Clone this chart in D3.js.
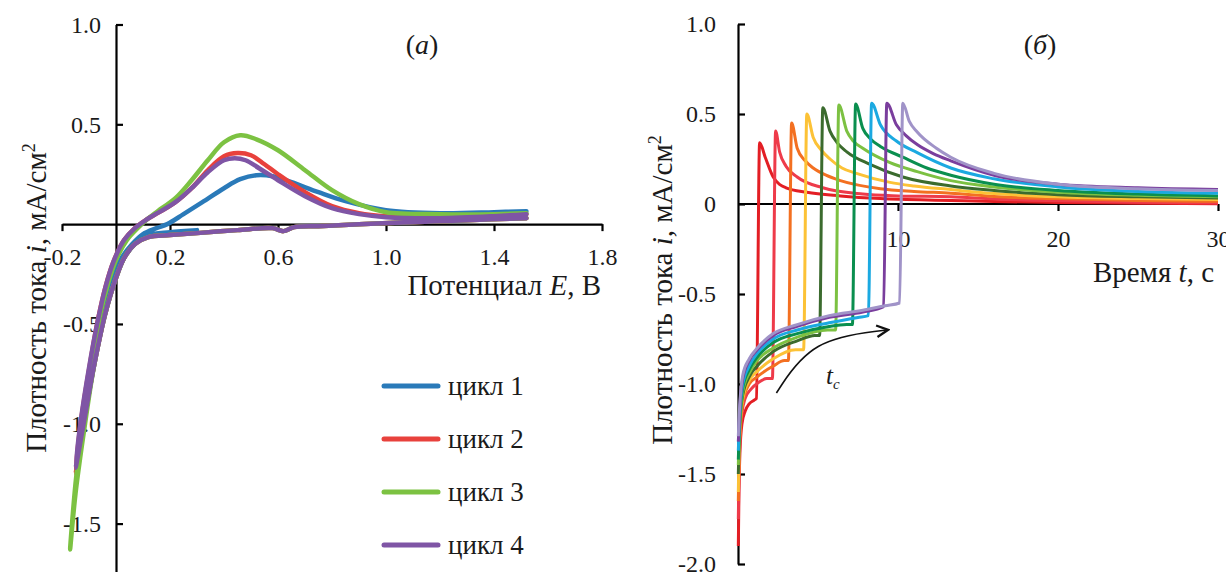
<!DOCTYPE html>
<html>
<head>
<meta charset="utf-8">
<script src="https://cdn.jsdelivr.net/npm/d3@7"></script>
<style>
  body { margin: 0; background: #fff; }
  svg { display: block; font-family: "Liberation Serif", "DejaVu Serif", serif; fill: #1a1a1a; }
  .axis path, .axis line { stroke: #000; stroke-width: 2.2; }
  .axis text { font-family: "Liberation Serif", serif; font-size: 24px; fill: #1a1a1a; }
</style>
</head>
<body>
<svg id="chart" width="1226" height="572"></svg>
<script>
// ---- panel (а): cyclic voltammograms, E in V, i in mA/cm2 ----
const cycleNames = ['цикл 1', 'цикл 2', 'цикл 3', 'цикл 4'];
const cycleColors = ['#2a7ab9', '#e8413c', '#7cc242', '#7f55a5'];

const cycle1E = [0.3, 0.2, 0.12, 0.07, 0.03, 0.0, -0.04, -0.08, -0.12, -0.14,
  -0.11, -0.08, -0.05, -0.02, 0.02, 0.06, 0.1, 0.15, 0.19, 0.25, 0.32, 0.4, 0.46, 0.52, 0.58, 0.65, 0.75, 0.85, 1.0, 1.2, 1.4, 1.52];
const cycle1I = [-0.03, -0.04, -0.055, -0.1, -0.17, -0.27, -0.45, -0.7, -1.0, -1.15,
  -0.88, -0.62, -0.42, -0.28, -0.17, -0.1, -0.05, -0.02, 0.0, 0.05, 0.11, 0.18, 0.225, 0.245, 0.24, 0.21, 0.16, 0.115, 0.07, 0.055, 0.06, 0.065];

const cycle2E = [1.52, 1.3, 1.1, 0.9, 0.75, 0.66, 0.62, 0.58, 0.45, 0.3, 0.2, 0.12, 0.07, 0.03, 0.0, -0.04, -0.08, -0.12, -0.15,
  -0.13, -0.1, -0.07, -0.04, -0.01, 0.03, 0.07, 0.11, 0.16, 0.22, 0.28, 0.34, 0.4, 0.45, 0.5, 0.55, 0.6, 0.7, 0.8, 0.9, 1.0, 1.2, 1.4, 1.52];
const cycle2I = [0.03, 0.02, 0.01, 0.0, -0.01, -0.015, -0.035, -0.02, -0.03, -0.045, -0.055, -0.065, -0.1, -0.17, -0.27, -0.45, -0.7, -1.0, -1.25,
  -0.99, -0.73, -0.5, -0.32, -0.19, -0.08, -0.02, 0.02, 0.06, 0.11, 0.18, 0.27, 0.34, 0.356, 0.345, 0.3, 0.25, 0.16, 0.09, 0.055, 0.04, 0.035, 0.04, 0.05];

const cycle3E = [1.52, 1.3, 1.1, 0.9, 0.75, 0.66, 0.62, 0.58, 0.45, 0.3, 0.2, 0.12, 0.07, 0.03, 0.0, -0.04, -0.08, -0.12, -0.15, -0.17,
  -0.15, -0.12, -0.09, -0.06, -0.03, 0.0, 0.04, 0.08, 0.12, 0.17, 0.22, 0.28, 0.34, 0.4, 0.46, 0.52, 0.6, 0.7, 0.8, 0.9, 1.0, 1.2, 1.4, 1.52];
const cycle3I = [0.03, 0.02, 0.01, 0.0, -0.01, -0.015, -0.035, -0.02, -0.03, -0.045, -0.055, -0.065, -0.1, -0.17, -0.27, -0.45, -0.7, -1.05, -1.35, -1.63,
  -1.3, -0.95, -0.68, -0.46, -0.3, -0.18, -0.08, -0.02, 0.03, 0.08, 0.13, 0.22, 0.32, 0.41, 0.445, 0.425, 0.37, 0.27, 0.17, 0.1, 0.06, 0.05, 0.05, 0.055];

const cycle4E = [1.52, 1.3, 1.1, 0.9, 0.75, 0.66, 0.62, 0.58, 0.45, 0.3, 0.2, 0.12, 0.07, 0.03, 0.0, -0.04, -0.08, -0.12, -0.15,
  -0.13, -0.1, -0.07, -0.04, -0.01, 0.03, 0.07, 0.11, 0.16, 0.22, 0.28, 0.34, 0.4, 0.44, 0.48, 0.53, 0.6, 0.7, 0.8, 0.9, 1.0, 1.2, 1.4, 1.52];
const cycle4I = [0.03, 0.02, 0.01, 0.0, -0.01, -0.015, -0.035, -0.02, -0.03, -0.045, -0.055, -0.065, -0.1, -0.17, -0.27, -0.45, -0.7, -1.0, -1.22,
  -0.98, -0.72, -0.5, -0.32, -0.19, -0.08, -0.02, 0.02, 0.06, 0.11, 0.18, 0.26, 0.32, 0.33, 0.32, 0.28, 0.22, 0.14, 0.08, 0.05, 0.035, 0.03, 0.04, 0.05];

const cyclesE = [cycle1E, cycle2E, cycle3E, cycle4E];
const cyclesI = [cycle1I, cycle2I, cycle3I, cycle4I];

const cvTicksX = [-0.2, 0.2, 0.6, 1.0, 1.4, 1.8];
const cvTicksY = [-1.5, -1.0, -0.5, 0.5, 1.0];

// ---- panel (б): current transients, t in s, i in mA/cm2, one per cathodic time ----
const stepColors = ['#e31e24', '#ee3b4a', '#f37021', '#fcc236', '#3b6b2e', '#7cc142', '#0a8f4f', '#1ba9e1', '#7a3e9d', '#a093c8'];

const step1 = [[0.02, -1.9], [0.06, -1.6], [0.12, -1.38], [0.25, -1.22], [0.45, -1.15], [0.7, -1.11], [1.0, -1.09], [1.15, -1.08],
  [1.35, 0.34], [1.7, 0.26], [2.2, 0.15], [3.0, 0.09], [4.3, 0.065], [6.4, 0.045], [8.9, 0.03], [13.3, 0.02], [16, 0.014], [20, 0.008], [25, 0.004], [30, 0.002]];
const step2 = [[0.02, -1.75], [0.06, -1.5], [0.12, -1.32], [0.25, -1.16], [0.45, -1.08], [0.8, -1.03], [1.3, -0.99], [1.8, -0.97], [2.15, -0.97],
  [2.35, 0.405], [2.6, 0.29], [3.0, 0.21], [3.7, 0.15], [5.3, 0.09], [7.8, 0.055], [10, 0.045], [13.3, 0.04], [16, 0.028], [20, 0.018], [25, 0.01], [30, 0.006]];
const step3 = [[0.02, -1.65], [0.06, -1.45], [0.12, -1.28], [0.3, -1.1], [0.7, -1.0], [1.2, -0.96], [2.2, -0.9], [2.9, -0.87], [3.15, -0.87],
  [3.35, 0.45], [3.7, 0.31], [4.2, 0.24], [4.7, 0.2], [5.5, 0.16], [6.4, 0.13], [8.9, 0.085], [11, 0.07], [13.3, 0.06], [16, 0.042], [20, 0.03], [25, 0.02], [30, 0.015]];
const step4 = [[0.02, -1.6], [0.06, -1.4], [0.12, -1.25], [0.3, -1.08], [0.7, -0.98], [1.2, -0.93], [2.2, -0.86], [3.6, -0.81], [4.1, -0.81],
  [4.3, 0.5], [4.7, 0.37], [5.2, 0.3], [5.75, 0.25], [6.5, 0.2], [7.4, 0.17], [9.5, 0.12], [11, 0.1], [13.3, 0.08], [16, 0.058], [20, 0.04], [25, 0.03], [30, 0.025]];
const step5 = [[0.02, -1.5], [0.06, -1.35], [0.12, -1.22], [0.3, -1.06], [0.7, -0.96], [1.2, -0.9], [2.2, -0.82], [3.7, -0.76], [4.8, -0.73], [5.1, -0.73],
  [5.3, 0.535], [5.75, 0.405], [6.2, 0.34], [6.8, 0.29], [8.25, 0.22], [10.3, 0.15], [13.3, 0.1], [16, 0.075], [20, 0.052], [25, 0.04], [30, 0.033]];
const step6 = [[0.02, -1.45], [0.06, -1.32], [0.12, -1.2], [0.3, -1.04], [0.7, -0.94], [1.2, -0.87], [2.2, -0.8], [3.7, -0.74], [5.6, -0.7], [6.1, -0.7],
  [6.3, 0.55], [6.8, 0.405], [7.2, 0.35], [7.8, 0.31], [9.5, 0.23], [11.2, 0.18], [13.3, 0.13], [16, 0.095], [20, 0.065], [25, 0.048], [30, 0.04]];
const step7 = [[0.02, -1.42], [0.06, -1.3], [0.12, -1.17], [0.3, -1.02], [0.7, -0.92], [1.2, -0.85], [2.2, -0.77], [3.7, -0.72], [5.7, -0.68], [6.8, -0.67], [7.15, -0.67],
  [7.35, 0.555], [7.8, 0.42], [8.3, 0.36], [8.9, 0.32], [10.3, 0.26], [11.8, 0.2], [13.3, 0.16], [16, 0.11], [20, 0.075], [25, 0.055], [30, 0.045]];
const step8 = [[0.02, -1.37], [0.06, -1.27], [0.12, -1.15], [0.3, -1.0], [0.7, -0.9], [1.2, -0.83], [2.2, -0.75], [3.7, -0.7], [5.7, -0.66], [7.5, -0.63], [8.15, -0.62],
  [8.35, 0.56], [8.9, 0.44], [9.9, 0.35], [11.2, 0.285], [13.3, 0.2], [16, 0.14], [20, 0.095], [25, 0.07], [30, 0.06]];
const step9 = [[0.02, -1.32], [0.06, -1.24], [0.12, -1.12], [0.3, -0.97], [0.7, -0.87], [1.2, -0.81], [2.2, -0.73], [3.7, -0.68], [5.7, -0.63], [7.8, -0.6], [9.1, -0.57],
  [9.3, 0.56], [9.9, 0.44], [10.5, 0.38], [11.2, 0.33], [12.2, 0.28], [13.3, 0.24], [16, 0.16], [20, 0.11], [25, 0.09], [30, 0.08]];
const step10 = [[0.02, -1.29], [0.06, -1.2], [0.12, -1.1], [0.3, -0.95], [0.7, -0.86], [1.2, -0.8], [2.2, -0.72], [3.7, -0.67], [5.7, -0.62], [7.8, -0.59], [9.2, -0.565], [10.1, -0.55],
  [10.3, 0.56], [10.7, 0.46], [11.2, 0.4], [12.4, 0.31], [13.3, 0.26], [16, 0.17], [20, 0.11], [25, 0.085], [30, 0.075]];

const steps = [step1, step2, step3, step4, step5, step6, step7, step8, step9, step10];

const ctTicksX = [10, 20, 30];
const ctTicksY = [-2.0, -1.5, -1.0, -0.5, 0, 0.5, 1.0];

// arrow marking growth of t_c: start, bend, end in (t, i)
const arrowPts = [[2.4, -1.05], [4.6, -0.75], [9.3, -0.70]];

const svg = d3.select('#chart');
const fmt = d => (d === 0 ? '0' : d.toFixed(1));

svg.append('defs').append('marker')
  .attr('id', 'head')
  .attr('viewBox', '0 0 10 10')
  .attr('refX', 8).attr('refY', 5)
  .attr('markerWidth', 9).attr('markerHeight', 9)
  .attr('orient', 'auto')
  .append('path')
  .attr('d', 'M1,1 L9,5 L1,9')
  .attr('fill', 'none')
  .attr('stroke', '#111')
  .attr('stroke-width', 1.6);

// ================= panel (а) =================
const xE = d3.scaleLinear().domain([-0.2, 1.8]).range([62, 602]);
const yA = d3.scaleLinear().domain([-1.75, 1.0]).range([573.5, 24.5]);

const gA = svg.append('g');

gA.append('g')
  .classed('axis', true)
  .attr('transform', `translate(0, ${yA(0)})`)
  .call(d3.axisBottom(xE).tickValues(cvTicksX).tickFormat(fmt).tickSizeInner(7).tickSizeOuter(0).tickPadding(17));

gA.append('g')
  .classed('axis', true)
  .attr('transform', `translate(${xE(0)}, 0)`)
  .call(d3.axisLeft(yA).tickValues(cvTicksY).tickFormat(fmt).tickSizeInner(-7).tickSizeOuter(0).tickPadding(15));

const cvLine = d3.line()
  .x(d => xE(d[0]))
  .y(d => yA(d[1]))
  .curve(d3.curveCatmullRom.alpha(0.5));

cyclesE.forEach((es, k) => {
  gA.append('path')
    .datum(es.map((e, j) => [e, cyclesI[k][j]]))
    .attr('d', cvLine)
    .attr('fill', 'none')
    .attr('stroke', cycleColors[k])
    .attr('stroke-width', 4.5)
    .attr('stroke-linejoin', 'round')
    .attr('stroke-linecap', 'round');
});

// legend
const legend = gA.append('g').attr('transform', 'translate(384, 386)');
cycleNames.forEach((name, k) => {
  const row = legend.append('g').attr('transform', `translate(0, ${k * 53})`);
  row.append('line')
    .attr('x1', 0).attr('x2', 54)
    .attr('stroke', cycleColors[k])
    .attr('stroke-width', 5)
    .attr('stroke-linecap', 'round');
  row.append('text')
    .attr('x', 64).attr('y', 0)
    .attr('dy', '0.35em')
    .style('font-size', '27px')
    .text(name);
});

// titles
const titleA = gA.append('text')
  .attr('transform', 'translate(36, 298) rotate(-90)')
  .attr('text-anchor', 'middle')
  .attr('dy', '0.35em')
  .style('font-size', '29px');
titleA.append('tspan').text('Плотность тока ');
titleA.append('tspan').style('font-style', 'italic').text('i');
titleA.append('tspan').text(', мА/см');
titleA.append('tspan').attr('dy', '-0.6em').style('font-size', '18px').text('2');

const xTitleA = gA.append('text')
  .attr('x', 601).attr('y', 295)
  .attr('text-anchor', 'end')
  .style('font-size', '29px');
xTitleA.append('tspan').text('Потенциал ');
xTitleA.append('tspan').style('font-style', 'italic').text('E');
xTitleA.append('tspan').text(', В');

const tagA = gA.append('text')
  .attr('x', 422).attr('y', 54)
  .attr('text-anchor', 'middle')
  .style('font-size', '28px');
tagA.append('tspan').text('(');
tagA.append('tspan').style('font-style', 'italic').text('а');
tagA.append('tspan').text(')');

// ================= panel (б) =================
const xT = d3.scaleLinear().domain([0, 30]).range([738, 1218]);
const yB = d3.scaleLinear().domain([-2.0, 1.0]).range([564, 24]);

const gB = svg.append('g');

gB.append('g')
  .classed('axis', true)
  .attr('transform', `translate(${xT(0)}, 0)`)
  .call(d3.axisLeft(yB).tickValues(ctTicksY).tickFormat(fmt).tickSizeInner(-7).tickSizeOuter(0).tickPadding(22));

gB.append('g')
  .classed('axis', true)
  .attr('transform', `translate(0, ${yB(0)})`)
  .call(d3.axisBottom(xT).tickValues(ctTicksX).tickFormat(d3.format('d')).tickSizeInner(7).tickSizeOuter(0).tickPadding(19))
  .call(g => g.select('.domain').attr('d', `M${xT(0)},0H${xT(30)}`));

const stepLine = d3.line()
  .x(d => xT(d[0]))
  .y(d => yB(d[1]))
  .curve(d3.curveMonotoneX);

steps.forEach((s, k) => {
  gB.append('path')
    .datum(s)
    .attr('d', stepLine)
    .attr('fill', 'none')
    .attr('stroke', stepColors[k])
    .attr('stroke-width', 3)
    .attr('stroke-linejoin', 'round');
});

// t_c arrow
gB.append('path')
  .datum(arrowPts)
  .attr('d', d3.line().x(d => xT(d[0])).y(d => yB(d[1])).curve(d3.curveBasis))
  .attr('fill', 'none')
  .attr('stroke', '#111')
  .attr('stroke-width', 1.6)
  .attr('marker-end', 'url(#head)');

const tc = gB.append('text')
  .attr('x', xT(5.5)).attr('y', yB(-1.0))
  .style('font-size', '25px')
  .style('font-style', 'italic');
tc.append('tspan').text('t');
tc.append('tspan').attr('dy', '0.3em').style('font-size', '15px').text('c');

const titleB = gB.append('text')
  .attr('transform', 'translate(662, 290) rotate(-90)')
  .attr('text-anchor', 'middle')
  .attr('dy', '0.35em')
  .style('font-size', '29px');
titleB.append('tspan').text('Плотность тока ');
titleB.append('tspan').style('font-style', 'italic').text('i');
titleB.append('tspan').text(', мА/см');
titleB.append('tspan').attr('dy', '-0.6em').style('font-size', '18px').text('2');

const xTitleB = gB.append('text')
  .attr('x', 1214).attr('y', 282)
  .attr('text-anchor', 'end')
  .style('font-size', '29px');
xTitleB.append('tspan').text('Время ');
xTitleB.append('tspan').style('font-style', 'italic').text('t');
xTitleB.append('tspan').text(', с');

const tagB = gB.append('text')
  .attr('x', 1040).attr('y', 54)
  .attr('text-anchor', 'middle')
  .style('font-size', '28px');
tagB.append('tspan').text('(');
tagB.append('tspan').style('font-style', 'italic').text('б');
tagB.append('tspan').text(')');
</script>
</body>
</html>
